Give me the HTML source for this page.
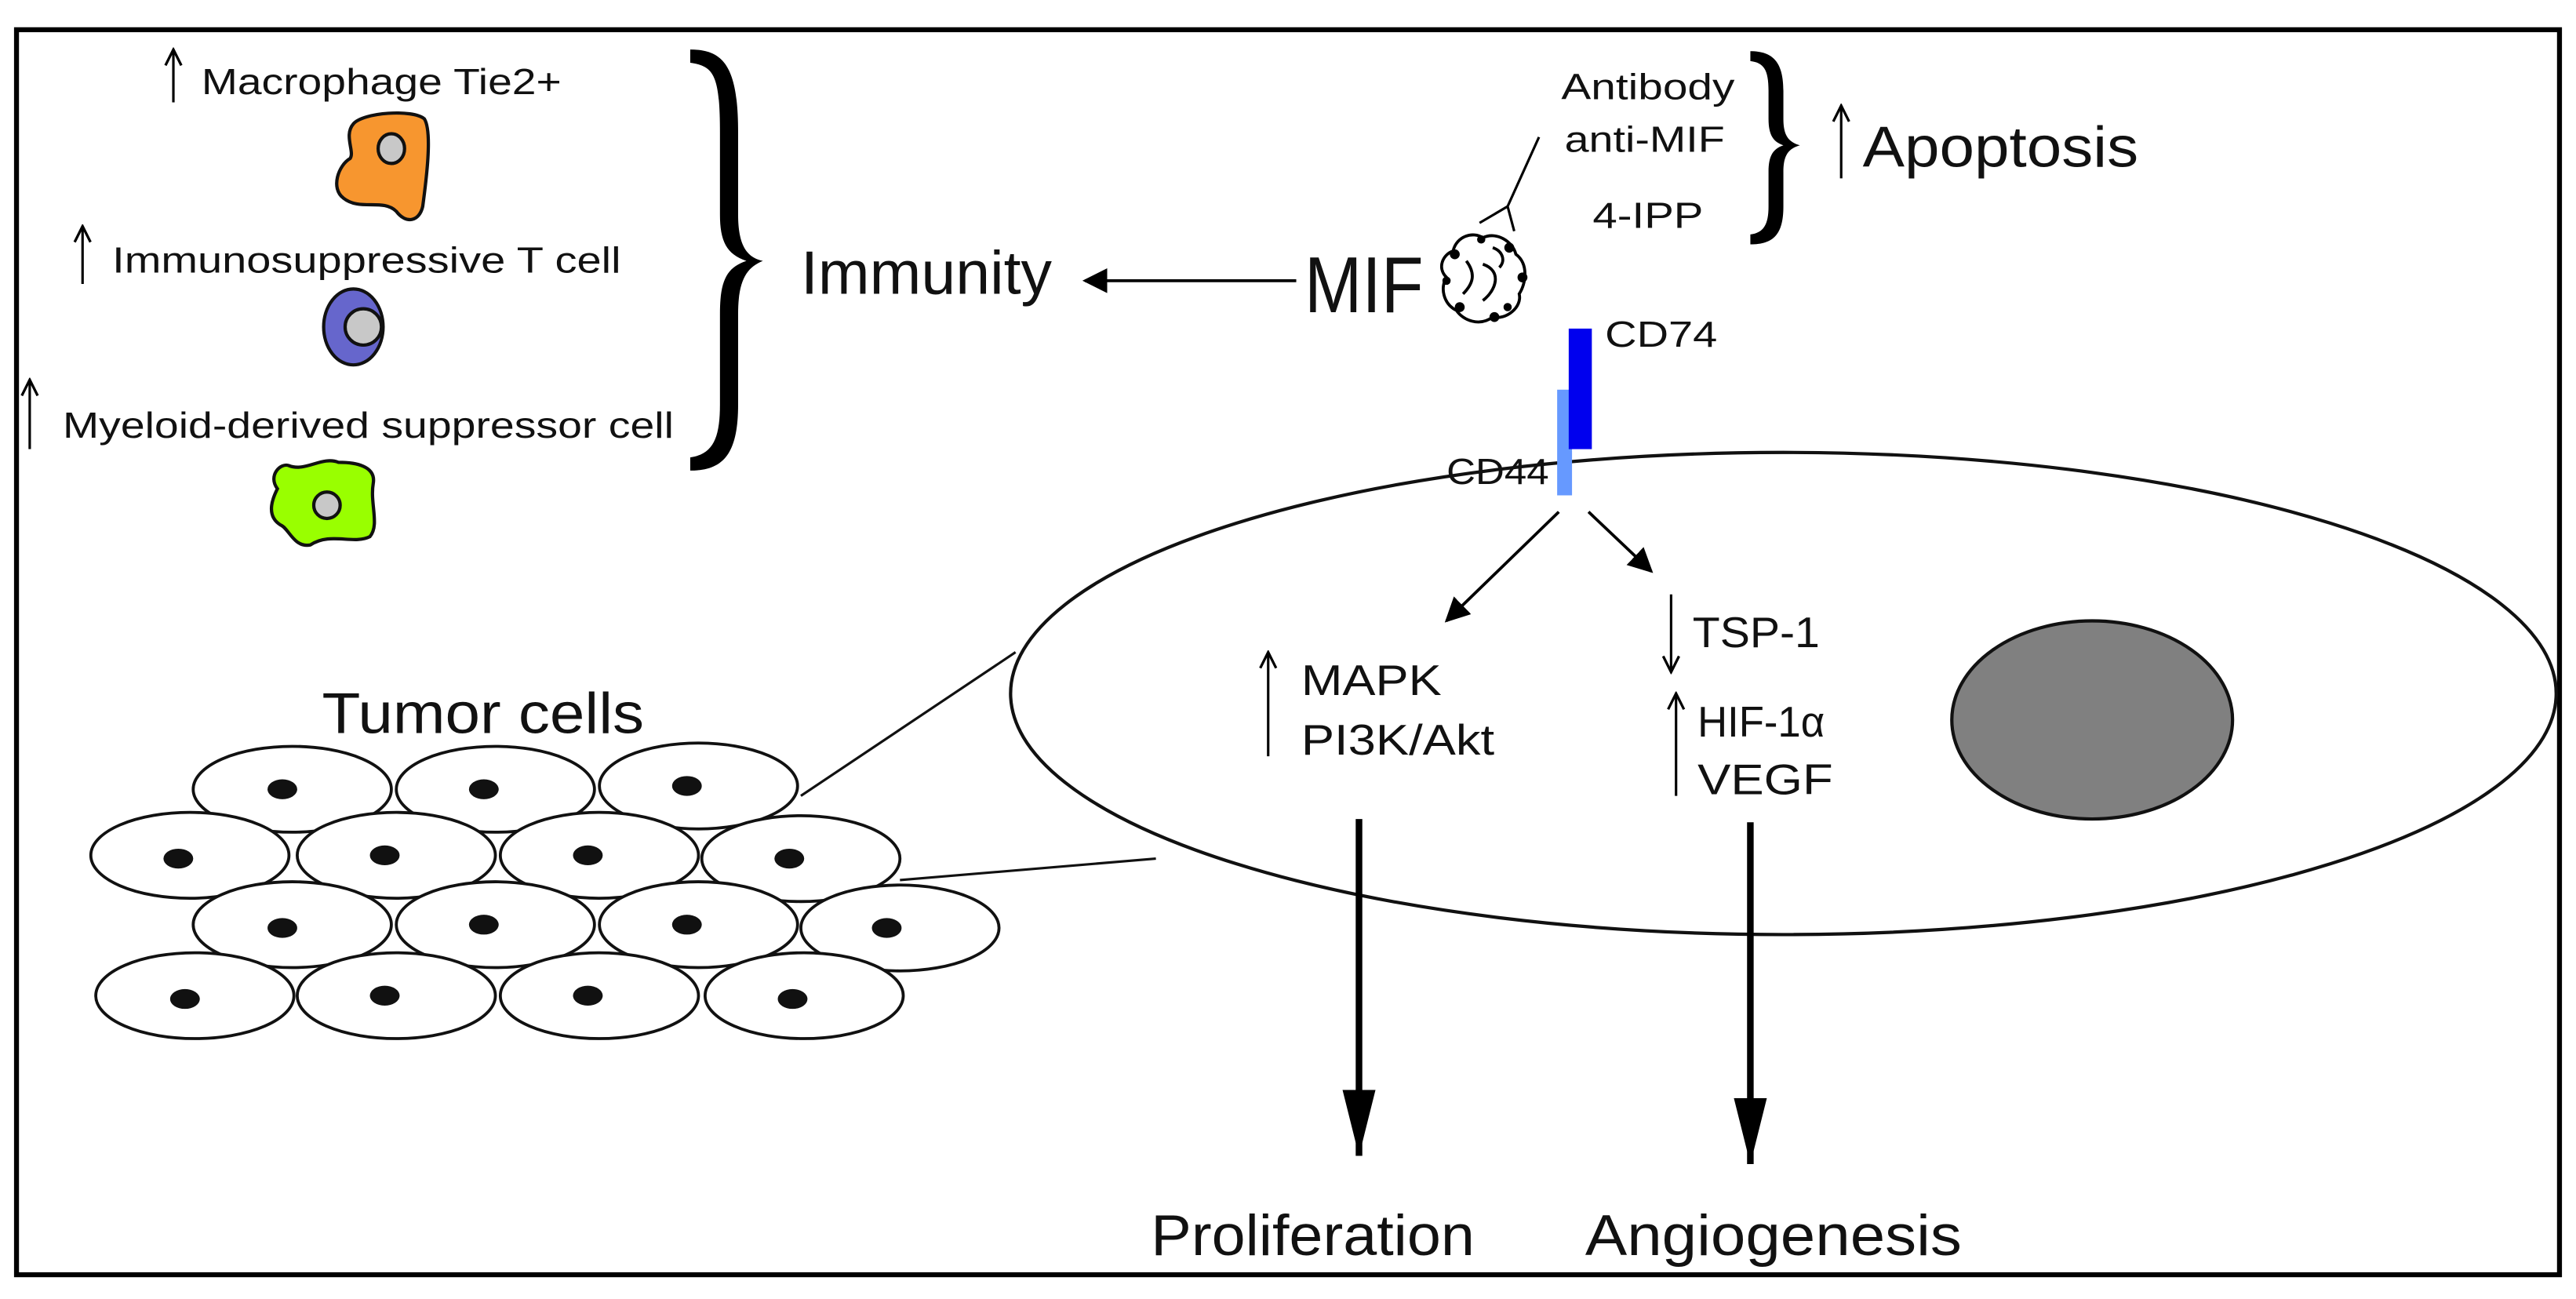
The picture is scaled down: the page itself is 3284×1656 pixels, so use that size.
<!DOCTYPE html>
<html><head><meta charset="utf-8"><style>html,body{margin:0;padding:0;background:#fff}svg{display:block}text{font-family:"Liberation Sans",sans-serif;fill:#111}</style></head>
<body>
<svg width="3284" height="1656" viewBox="0 0 1560 786.7" preserveAspectRatio="none" xmlns="http://www.w3.org/2000/svg">
<defs>
<marker id="ah" viewBox="0 0 10 10" refX="9" refY="5" markerWidth="12" markerHeight="12" orient="auto" markerUnits="userSpaceOnUse"><path d="M1,1 L9,5 L1,9" fill="none" stroke="#000" stroke-width="1.3"/></marker>
<marker id="ah2" viewBox="0 0 10 10" refX="9" refY="5" markerWidth="15" markerHeight="15" orient="auto" markerUnits="userSpaceOnUse"><path d="M0,0 L10,5 L0,10 z" fill="#000"/></marker>
<marker id="big" viewBox="0 0 20 10" refX="20" refY="5" markerWidth="40" markerHeight="20" orient="auto" markerUnits="userSpaceOnUse"><path d="M0,0 L20,5 L0,10 z" fill="#000"/></marker>
</defs>
<rect x="10" y="18" width="1540" height="754" fill="none" stroke="#000" stroke-width="3"/>

<line x1="105" y1="62" x2="105" y2="30" stroke="#000" stroke-width="1.5" marker-end="url(#ah)"/>
<text x="122" y="57" font-size="22" textLength="218" lengthAdjust="spacingAndGlyphs">Macrophage Tie2+</text>
<path d="M214,75 C220,68 250,66 257,72 C262,80 258,110 256,125 C254,134 246,136 240,128 C232,120 218,128 208,120 C200,114 205,100 212,96 C215,92 208,82 214,75 Z" fill="#f7962f" stroke="#111" stroke-width="2"/>
<ellipse cx="237" cy="90" rx="8" ry="9" fill="#c8c8c8" stroke="#111" stroke-width="2"/>
<line x1="50" y1="172" x2="50" y2="137" stroke="#000" stroke-width="1.5" marker-end="url(#ah)"/>
<text x="68" y="165" font-size="22" textLength="308" lengthAdjust="spacingAndGlyphs">Immunosuppressive T cell</text>
<ellipse cx="214" cy="198" rx="18" ry="23" fill="#6666cc" stroke="#111" stroke-width="2"/>
<circle cx="220" cy="198" r="11" fill="#c8c8c8" stroke="#111" stroke-width="2"/>
<line x1="18" y1="272" x2="18" y2="230" stroke="#000" stroke-width="1.5" marker-end="url(#ah)"/>
<text x="38" y="265" font-size="22" textLength="370" lengthAdjust="spacingAndGlyphs">Myeloid-derived suppressor cell</text>
<path d="M175,282 C185,286 195,276 205,280 C215,280 228,282 226,293 C224,305 230,318 224,325 C214,330 200,322 188,330 C178,332 175,320 170,318 C160,312 166,300 168,296 C162,288 170,280 175,282 Z" fill="#99ff00" stroke="#111" stroke-width="2"/>
<circle cx="198" cy="306" r="8" fill="#c8c8c8" stroke="#111" stroke-width="2"/>

<path d="M418,30 C438,30 447,40 447,80 L447,130 C447,148 452,156 462,158 C452,162 447,170 447,190 L447,245 C447,275 438,285 418,285 L418,277 C432,275 436,265 436,245 L436,190 C436,170 440,162 452,158 C440,154 436,146 436,130 L436,80 C436,45 432,40 418,38 Z" fill="#000"/>
<text x="485" y="178" font-size="37" textLength="152" lengthAdjust="spacingAndGlyphs">Immunity</text>
<line x1="785" y1="170" x2="657" y2="170" stroke="#000" stroke-width="1.8" marker-end="url(#ah2)"/>
<text x="790" y="189" font-size="48" textLength="72" lengthAdjust="spacingAndGlyphs">MIF</text>
<g stroke="#000" stroke-width="1.8" fill="#fff">
<path d="M880,152 C882,143 892,140 898,144 C906,140 916,146 918,154 C926,160 924,172 920,178 C922,186 912,194 904,192 C896,198 886,194 882,188 C874,184 872,174 876,168 C870,162 874,154 880,152 Z"/>
<path d="M888,158 C894,166 892,172 886,178 M898,160 C910,164 906,176 898,182 M904,150 C910,152 912,158 908,162" fill="none"/>
</g>
<g fill="#000"><circle cx="881" cy="154" r="3"/><circle cx="914" cy="150" r="3"/><circle cx="922" cy="168" r="3"/><circle cx="905" cy="192" r="3"/><circle cx="884" cy="186" r="3"/><circle cx="876" cy="170" r="2.5"/><circle cx="897" cy="145" r="2.5"/><circle cx="913" cy="186" r="2.5"/></g>
<polyline points="932,83 913,125 917,140" fill="none" stroke="#000" stroke-width="1.5"/>
<line x1="913" y1="125" x2="896" y2="135" stroke="#000" stroke-width="1.5"/>
<text x="998" y="60" font-size="22" text-anchor="middle" textLength="105" lengthAdjust="spacingAndGlyphs">Antibody</text>
<text x="996" y="92" font-size="22" text-anchor="middle" textLength="97" lengthAdjust="spacingAndGlyphs">anti-MIF</text>
<text x="998" y="138" font-size="22" text-anchor="middle" textLength="67" lengthAdjust="spacingAndGlyphs">4-IPP</text>
<path d="M1060,31 C1074,31 1080,38 1080,55 L1080,72 C1080,82 1083,86 1090,88 C1083,90 1080,94 1080,104 L1080,125 C1080,142 1074,148 1060,148 L1060,142 C1068,141 1071,136 1071,125 L1071,104 C1071,94 1074,90 1080,88 C1074,86 1071,82 1071,72 L1071,55 C1071,42 1068,38 1060,37 Z" fill="#000"/>
<line x1="1115" y1="108" x2="1115" y2="64" stroke="#000" stroke-width="1.5" marker-end="url(#ah)"/>
<text x="1128" y="101" font-size="35" textLength="167" lengthAdjust="spacingAndGlyphs">Apoptosis</text>

<ellipse cx="1080" cy="420" rx="468" ry="146" fill="#fff" stroke="#111" stroke-width="2"/>
<ellipse cx="1267" cy="436" rx="85" ry="60" fill="#808080" stroke="#111" stroke-width="2"/>
<rect x="943" y="236" width="9" height="64" fill="#6699ff"/>
<rect x="950" y="199" width="14" height="73" fill="#0000ee"/>
<text x="972" y="210" font-size="22" textLength="68" lengthAdjust="spacingAndGlyphs">CD74</text>
<text x="876" y="293" font-size="22" textLength="62" lengthAdjust="spacingAndGlyphs">CD44</text>
<line x1="944" y1="310" x2="876" y2="376" stroke="#000" stroke-width="1.8" marker-end="url(#ah2)"/>
<line x1="962" y1="310" x2="1000" y2="346" stroke="#000" stroke-width="1.8" marker-end="url(#ah2)"/>
<line x1="768" y1="458" x2="768" y2="395" stroke="#000" stroke-width="1.5" marker-end="url(#ah)"/>
<text x="788" y="421" font-size="26" textLength="85" lengthAdjust="spacingAndGlyphs">MAPK</text>
<text x="788" y="457" font-size="26" textLength="117" lengthAdjust="spacingAndGlyphs">PI3K/Akt</text>
<line x1="1012" y1="360" x2="1012" y2="407" stroke="#000" stroke-width="1.5" marker-end="url(#ah)"/>
<text x="1025" y="392" font-size="26" textLength="77" lengthAdjust="spacingAndGlyphs">TSP-1</text>
<line x1="1015" y1="482" x2="1015" y2="420" stroke="#000" stroke-width="1.5" marker-end="url(#ah)"/>
<text x="1028" y="446" font-size="26" textLength="77" lengthAdjust="spacingAndGlyphs">HIF-1α</text>
<text x="1028" y="481" font-size="26" textLength="82" lengthAdjust="spacingAndGlyphs">VEGF</text>
<line x1="823" y1="496" x2="823" y2="700" stroke="#000" stroke-width="4" marker-end="url(#big)"/>
<line x1="1060" y1="498" x2="1060" y2="705" stroke="#000" stroke-width="4" marker-end="url(#big)"/>
<text x="697" y="760" font-size="35" textLength="196" lengthAdjust="spacingAndGlyphs">Proliferation</text>
<text x="960" y="760" font-size="35" textLength="228" lengthAdjust="spacingAndGlyphs">Angiogenesis</text>

<text x="195" y="444" font-size="35" textLength="195" lengthAdjust="spacingAndGlyphs">Tumor cells</text>
<line x1="485" y1="482" x2="615" y2="395" stroke="#111" stroke-width="1.5"/>
<line x1="545" y1="533" x2="700" y2="520" stroke="#111" stroke-width="1.5"/>
<g fill="#fff" stroke="#111" stroke-width="1.8">
<ellipse cx="177" cy="478" rx="60" ry="26"/><ellipse cx="300" cy="478" rx="60" ry="26"/><ellipse cx="423" cy="476" rx="60" ry="26"/>
<ellipse cx="115" cy="518" rx="60" ry="26"/><ellipse cx="240" cy="518" rx="60" ry="26"/><ellipse cx="363" cy="518" rx="60" ry="26"/><ellipse cx="485" cy="520" rx="60" ry="26"/>
<ellipse cx="177" cy="560" rx="60" ry="26"/><ellipse cx="300" cy="560" rx="60" ry="26"/><ellipse cx="423" cy="560" rx="60" ry="26"/><ellipse cx="545" cy="562" rx="60" ry="26"/>
<ellipse cx="118" cy="603" rx="60" ry="26"/><ellipse cx="240" cy="603" rx="60" ry="26"/><ellipse cx="363" cy="603" rx="60" ry="26"/><ellipse cx="487" cy="603" rx="60" ry="26"/>
</g>
<g fill="#111">
<ellipse cx="171" cy="478" rx="9" ry="6"/><ellipse cx="293" cy="478" rx="9" ry="6"/><ellipse cx="416" cy="476" rx="9" ry="6"/>
<ellipse cx="108" cy="520" rx="9" ry="6"/><ellipse cx="233" cy="518" rx="9" ry="6"/><ellipse cx="356" cy="518" rx="9" ry="6"/><ellipse cx="478" cy="520" rx="9" ry="6"/>
<ellipse cx="171" cy="562" rx="9" ry="6"/><ellipse cx="293" cy="560" rx="9" ry="6"/><ellipse cx="416" cy="560" rx="9" ry="6"/><ellipse cx="537" cy="562" rx="9" ry="6"/>
<ellipse cx="112" cy="605" rx="9" ry="6"/><ellipse cx="233" cy="603" rx="9" ry="6"/><ellipse cx="356" cy="603" rx="9" ry="6"/><ellipse cx="480" cy="605" rx="9" ry="6"/>
</g>
</svg>
</body></html>
